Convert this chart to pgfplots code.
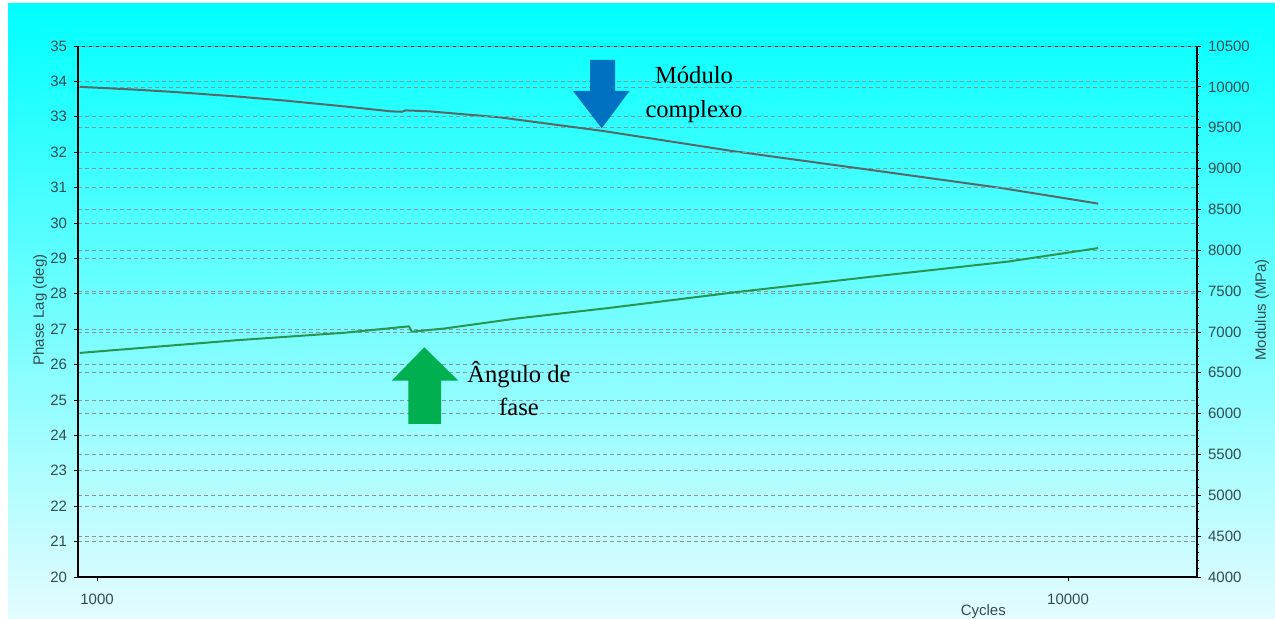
\documentclass[border=0pt]{standalone}
\usepackage{fontspec}
\setmainfont{Liberation Sans}
\newfontfamily\timesfont{Liberation Serif}
\usepackage{pgfplots}
\pgfplotsset{compat=1.18}

\definecolor{ticktxt}{RGB}{50,75,80}
\definecolor{gridc}{RGB}{130,150,155}
\definecolor{modc}{RGB}{85,105,105}
\definecolor{phc}{RGB}{40,150,80}
\definecolor{arrblue}{RGB}{0,112,192}
\definecolor{arrgreen}{RGB}{0,176,80}
\definecolor{bgtop}{RGB}{0,255,255}
\definecolor{bgbot}{RGB}{228,252,255}

% phase lag (deg) vs cycles
\pgfplotstableread{
cyc deg
960 26.33
1395 26.69
1800 26.90
2076 27.07
2095 27.08
2110 26.93
2280 27.02
2700 27.30
3344 27.59
4594 28.06
6313 28.49
8676 28.91
10737 29.29
}\phasedata
% complex modulus (MPa) vs cycles
\pgfplotstableread{
cyc mpa
960 10000
1100 9965
1209 9935
1400 9880
1558 9833
1800 9760
2008 9700
2060 9695
2080 9712
2200 9700
2594 9628
3320 9460
4519 9213
6209 8989
8511 8764
10743 8571
}\moddata

\begin{document}
\begin{tikzpicture}
\useasboundingbox (0,0) rectangle (637.5pt,-309.5pt);
\fill[white] (0,0) rectangle (637.5pt,-309.5pt);
\shade[top color=bgtop, bottom color=bgbot] (4pt,-2pt) rectangle (637.5pt,-309.5pt);

% right axis: modulus
\begin{axis}[
  at={(39pt,-288.5pt)}, anchor=south west,
  scale only axis, width=559.5pt, height=265.5pt,
  xmode=log, xmin=956, xmax=13580,
  ymin=4000, ymax=10500, ytick distance=500, minor y tick num=4,
  scaled y ticks=false,
  axis y line*=right, axis x line*=top,
  y axis line style={-, black, line width=1.1pt},
  x axis line style={-, black!80, line width=0.5pt},
  xtick=\empty, xminorticks=false,
  tick align=outside,
  major tick length=2pt, minor tick length=1pt,
  tick style={black, line width=0.4pt},
  ticklabel style={font=\fontsize{7.5}{9}\selectfont, text=ticktxt},
  /pgf/number format/assume math mode=true,
  /pgf/number format/fixed,
  /pgf/number format/1000 sep={},
  ymajorgrids,
  major grid style={gridc, dash pattern=on 2pt off 1.5pt, line width=0.35pt},
  ylabel={Modulus (MPa)},
  ylabel style={font=\fontsize{7.5}{9}\selectfont, text=ticktxt,
    at={(axis description cs:1.058,0.503)}, anchor=center},
]
\addplot[modc, line width=1pt] table[x=cyc, y=mpa] {\moddata};
\end{axis}

% left axis: phase lag
\begin{axis}[
  at={(39pt,-288.5pt)}, anchor=south west,
  scale only axis, width=559.5pt, height=265.5pt,
  xmode=log, xmin=956, xmax=13580,
  ymin=20, ymax=35, ytick distance=1,
  axis y line*=left, axis x line*=bottom,
  y axis line style={-, black, line width=1.1pt},
  x axis line style={-, black, line width=1.1pt},
  xtick={1000,10000}, xticklabels={1000,10000},
  xminorticks=false,
  tick align=outside,
  major tick length=2pt,
  tick style={black, line width=0.4pt},
  ticklabel style={font=\fontsize{7.5}{9}\selectfont, text=ticktxt},
  xticklabel style={yshift=-3pt},
  /pgf/number format/assume math mode=true,
  ymajorgrids,
  major grid style={gridc, dash pattern=on 2pt off 1.5pt, line width=0.35pt},
  ylabel={Phase Lag (deg)},
  ylabel style={font=\fontsize{7.5}{9}\selectfont, text=ticktxt,
    at={(axis description cs:-0.034,0.503)}, anchor=center},
  xlabel={Cycles},
  xlabel style={font=\fontsize{7.5}{9}\selectfont, text=ticktxt,
    at={(axis description cs:0.809,-0.038)}, anchor=north},
]
\addplot[phc, line width=1pt] table[x=cyc, y=deg] {\phasedata};
\end{axis}

% annotation arrows and texts (pixel grid: 1px = 0.5pt)
\begin{scope}[x=0.5pt, y=-0.5pt]
\fill[arrblue] (590,60) -- (615,60) -- (615,91) -- (629.5,91) -- (601.7,128.3)
  -- (573,91) -- (590,91) -- cycle;
\fill[arrgreen] (408.3,424) -- (441,424) -- (441,380.7) -- (458.3,380.7)
  -- (424.3,347.3) -- (391.7,380.7) -- (408.3,380.7) -- cycle;
\node[font=\timesfont\fontsize{12.3}{17}\selectfont, align=center, inner sep=0]
  at (694,95) {Módulo\\complexo};
\node[font=\timesfont\fontsize{12.3}{16.5}\selectfont, align=center, inner sep=0]
  at (519,389) {Ângulo de\\fase};
\end{scope}
\end{tikzpicture}
\end{document}
